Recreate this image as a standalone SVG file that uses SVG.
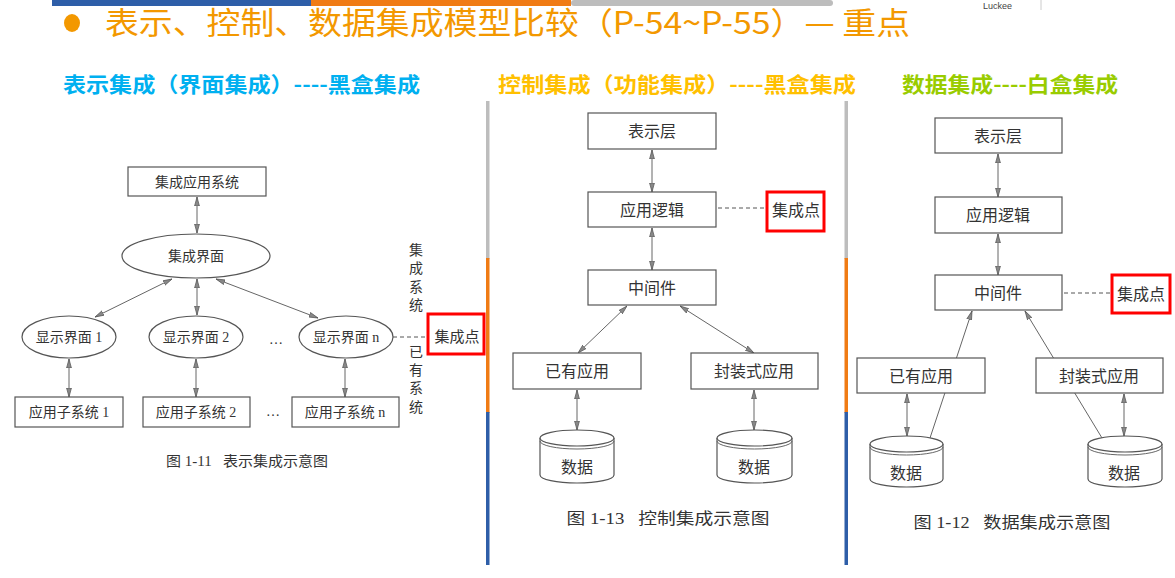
<svg xmlns="http://www.w3.org/2000/svg" width="1175" height="578" viewBox="0 0 1175 578">
<style>
.box{fill:#fff;stroke:#555;stroke-width:1.2}
.ell{fill:#fff;stroke:#555;stroke-width:1.2}
.ln{stroke:#666;stroke-width:1;fill:none}
.dash{stroke:#555;stroke-width:1;stroke-dasharray:4 3;fill:none}
.red{fill:#fff;stroke:#ff0000;stroke-width:3}
.t{font-family:"Liberation Serif","Noto Sans CJK SC",serif;fill:#333;text-anchor:middle;dominant-baseline:central}
.h{font-family:"Noto Sans CJK SC","Microsoft YaHei",sans-serif;font-weight:bold;font-size:21px}
</style>
<defs>
<marker id="ah" viewBox="0 0 10 10" refX="10" refY="5" markerWidth="9" markerHeight="9" markerUnits="userSpaceOnUse" orient="auto-start-reverse">
<path d="M0,2.3 L10,5 L0,7.7 Z" fill="#888" stroke="#555" stroke-width="0.8"/>
</marker>
</defs>
<rect width="1175" height="578" fill="#fff"/>

<g id="header">
<rect x="52" y="0" width="260" height="6" fill="#2e5ea8"/>
<rect x="311" y="0" width="260" height="6" fill="#f07b14"/>
<rect x="571" y="0" width="262" height="6" rx="3" fill="#bdbdbd"/>
<text x="983" y="9" font-family="Liberation Sans,sans-serif" font-size="9" fill="#444">Luckee</text>
<line x1="1041" y1="0" x2="1041" y2="10" stroke="#ccc" stroke-width="1"/>
<ellipse cx="72" cy="23" rx="8" ry="9" fill="#f39800"/>
<text x="105" y="34" font-family="Noto Sans CJK SC,sans-serif" font-size="31" fill="#f39800" textLength="805" lengthAdjust="spacingAndGlyphs">表示、控制、数据集成模型比较（P-54~P-55）— 重点</text>
<text class="h" x="63" y="92" fill="#00b0f0" textLength="357" lengthAdjust="spacingAndGlyphs">表示集成（界面集成）----黑盒集成</text>
<text class="h" x="498" y="92" fill="#ffc000" textLength="358" lengthAdjust="spacingAndGlyphs">控制集成（功能集成）----黑盒集成</text>
<text class="h" x="902" y="92" fill="#99cc00" textLength="216" lengthAdjust="spacingAndGlyphs">数据集成----白盒集成</text>
</g>

<g id="dividers">
<rect x="486" y="101" width="3.5" height="158" fill="#bdbdbd"/>
<rect x="486" y="258" width="3.5" height="155" fill="#f07b14"/>
<rect x="486" y="412" width="3.5" height="153" fill="#2e5ea8"/>
<rect x="844.5" y="101" width="3.5" height="158" fill="#bdbdbd"/>
<rect x="844.5" y="258" width="3.5" height="155" fill="#f07b14"/>
<rect x="844.5" y="412" width="3.5" height="153" fill="#2e5ea8"/>
</g>

<g id="connectors">
<line class="ln" x1="197" y1="197" x2="197" y2="233" marker-start="url(#ah)" marker-end="url(#ah)"/>
<line class="ln" x1="172" y1="279" x2="95" y2="317" marker-start="url(#ah)" marker-end="url(#ah)"/>
<line class="ln" x1="197" y1="279" x2="197" y2="315" marker-start="url(#ah)" marker-end="url(#ah)"/>
<line class="ln" x1="216" y1="279" x2="318" y2="318" marker-start="url(#ah)" marker-end="url(#ah)"/>
<line class="ln" x1="69" y1="359" x2="69" y2="397" marker-start="url(#ah)" marker-end="url(#ah)"/>
<line class="ln" x1="196" y1="359" x2="196" y2="397" marker-start="url(#ah)" marker-end="url(#ah)"/>
<line class="ln" x1="345" y1="359" x2="345" y2="397" marker-start="url(#ah)" marker-end="url(#ah)"/>
<line class="dash" x1="393" y1="337" x2="427" y2="337"/>
<line class="ln" x1="652" y1="150" x2="652" y2="192" marker-start="url(#ah)" marker-end="url(#ah)"/>
<line class="ln" x1="652" y1="228" x2="652" y2="270" marker-start="url(#ah)" marker-end="url(#ah)"/>
<line class="dash" x1="718" y1="208" x2="766" y2="208"/>
<line class="ln" x1="627" y1="306" x2="578" y2="353" marker-start="url(#ah)" marker-end="url(#ah)"/>
<line class="ln" x1="680" y1="306" x2="754" y2="353" marker-start="url(#ah)" marker-end="url(#ah)"/>
<line class="ln" x1="577" y1="390" x2="577" y2="430" marker-start="url(#ah)" marker-end="url(#ah)"/>
<line class="ln" x1="754" y1="390" x2="754" y2="430" marker-start="url(#ah)" marker-end="url(#ah)"/>
<line class="ln" x1="998" y1="154" x2="998" y2="197" marker-start="url(#ah)" marker-end="url(#ah)"/>
<line class="ln" x1="998" y1="234" x2="998" y2="275" marker-start="url(#ah)" marker-end="url(#ah)"/>
<line class="dash" x1="1064" y1="293" x2="1111" y2="293"/>
<line class="ln" x1="930" y1="438" x2="972" y2="311" marker-end="url(#ah)"/>
<line class="ln" x1="1102" y1="438" x2="1025" y2="311" marker-end="url(#ah)"/>
<line class="ln" x1="907" y1="394" x2="907" y2="436" marker-start="url(#ah)" marker-end="url(#ah)"/>
<line class="ln" x1="1124" y1="394" x2="1124" y2="436" marker-start="url(#ah)" marker-end="url(#ah)"/>
</g>

<g id="l-app"><rect class="box" x="128" y="167" width="138" height="29"/><text class="t" x="197" y="182" font-size="14">集成应用系统</text></g>
<g id="l-ui"><ellipse class="ell" cx="196" cy="256" rx="74" ry="22"/><text class="t" x="196" y="256" font-size="14">集成界面</text></g>
<g id="l-ui1"><ellipse class="ell" cx="69" cy="337" rx="47" ry="21"/><text class="t" x="69" y="337" font-size="14">显示界面 1</text></g>
<g id="l-ui2"><ellipse class="ell" cx="196" cy="337" rx="47" ry="21"/><text class="t" x="196" y="337" font-size="14">显示界面 2</text></g>
<g id="l-uin"><ellipse class="ell" cx="346" cy="337" rx="47" ry="21"/><text class="t" x="346" y="337" font-size="14">显示界面 n</text></g>
<g id="l-sub1"><rect class="box" x="15" y="397" width="108" height="30"/><text class="t" x="69" y="412" font-size="14">应用子系统 1</text></g>
<g id="l-sub2"><rect class="box" x="143" y="397" width="107" height="30"/><text class="t" x="196" y="412" font-size="14">应用子系统 2</text></g>
<g id="l-subn"><rect class="box" x="292" y="397" width="107" height="30"/><text class="t" x="345" y="412" font-size="14">应用子系统 n</text></g>
<g id="l-dots">
<text class="t" x="276" y="339" font-size="14">…</text>
<text class="t" x="273" y="411" font-size="14">…</text>
</g>
<g id="l-labels">
<text class="t" x="416" y="250" font-size="14">集</text>
<text class="t" x="416" y="268" font-size="14">成</text>
<text class="t" x="416" y="287" font-size="14">系</text>
<text class="t" x="416" y="305" font-size="14">统</text>
<text class="t" x="416" y="352" font-size="14">已</text>
<text class="t" x="416" y="370" font-size="14">有</text>
<text class="t" x="416" y="388" font-size="14">系</text>
<text class="t" x="416" y="407" font-size="14">统</text>
</g>
<g id="l-point"><rect class="red" x="428" y="314" width="56" height="40"/><text class="t" x="457" y="337" font-size="15">集成点</text></g>
<text class="t" x="247" y="461" font-size="14" textLength="162" lengthAdjust="spacingAndGlyphs" xml:space="preserve">图 1-11   表示集成示意图</text>

<g id="m-pres"><rect class="box" x="588" y="113" width="128" height="36"/><text class="t" x="652" y="131" font-size="16">表示层</text></g>
<g id="m-logic"><rect class="box" x="588" y="192" width="128" height="35"/><text class="t" x="652" y="210" font-size="16">应用逻辑</text></g>
<g id="m-point"><rect class="red" x="767" y="192" width="57" height="39"/><text class="t" x="796" y="210" font-size="16">集成点</text></g>
<g id="m-mid"><rect class="box" x="588" y="270" width="128" height="35"/><text class="t" x="652" y="288" font-size="16">中间件</text></g>
<g id="m-exist"><rect class="box" x="513" y="353" width="128" height="36"/><text class="t" x="577" y="371" font-size="16">已有应用</text></g>
<g id="m-wrap"><rect class="box" x="691" y="353" width="127" height="36"/><text class="t" x="754" y="371" font-size="16">封装式应用</text></g>
<g id="m-db1">
<path class="box" d="M540,438 V475 A37,8 0 0 0 614,475 V438"/>
<ellipse class="ell" cx="577" cy="438" rx="37" ry="8"/>
<path class="ln" d="M540,441 A37,8 0 0 0 614,441"/>
<text class="t" x="577" y="467" font-size="16">数据</text>
</g>
<g id="m-db2">
<path class="box" d="M717,438 V475 A37.5,8 0 0 0 792,475 V438"/>
<ellipse class="ell" cx="754.5" cy="438" rx="37.5" ry="8"/>
<path class="ln" d="M717,441 A37.5,8 0 0 0 792,441"/>
<text class="t" x="754" y="467" font-size="16">数据</text>
</g>
<text class="t" x="668" y="518" font-size="16" textLength="203" lengthAdjust="spacingAndGlyphs" xml:space="preserve">图 1-13   控制集成示意图</text>

<g id="r-pres"><rect class="box" x="935" y="118" width="127" height="35"/><text class="t" x="998" y="136" font-size="16">表示层</text></g>
<g id="r-logic"><rect class="box" x="935" y="197" width="127" height="36"/><text class="t" x="998" y="215" font-size="16">应用逻辑</text></g>
<g id="r-mid"><rect class="box" x="935" y="275" width="127" height="35"/><text class="t" x="998" y="293" font-size="16">中间件</text></g>
<g id="r-point"><rect class="red" x="1112" y="275" width="58" height="38"/><text class="t" x="1141" y="294" font-size="16">集成点</text></g>
<g id="r-exist"><rect class="box" x="857" y="358" width="128" height="35"/><text class="t" x="921" y="376" font-size="16">已有应用</text></g>
<g id="r-wrap"><rect class="box" x="1036" y="358" width="127" height="35"/><text class="t" x="1099" y="376" font-size="16">封装式应用</text></g>
<g id="r-db1">
<path class="box" d="M870,444 V479 A36.5,8 0 0 0 943,479 V444"/>
<ellipse class="ell" cx="906.5" cy="444" rx="36.5" ry="8"/>
<path class="ln" d="M870,447 A36.5,8 0 0 0 943,447"/>
<text class="t" x="906" y="473" font-size="16">数据</text>
</g>
<g id="r-db2">
<path class="box" d="M1088,444 V479 A37,8 0 0 0 1162,479 V444"/>
<ellipse class="ell" cx="1125" cy="444" rx="37" ry="8"/>
<path class="ln" d="M1088,447 A37,8 0 0 0 1162,447"/>
<text class="t" x="1124" y="473" font-size="16">数据</text>
</g>
<text class="t" x="1012" y="522" font-size="16" textLength="197" lengthAdjust="spacingAndGlyphs" xml:space="preserve">图 1-12   数据集成示意图</text>
</svg>
